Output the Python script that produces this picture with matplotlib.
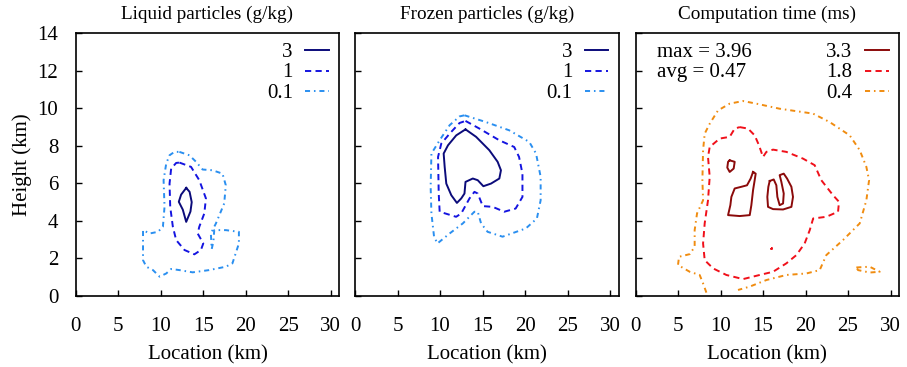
import numpy as np
import matplotlib
matplotlib.use("Agg")
from matplotlib import pyplot as plt

# contour outlines, (km, km)
liq_3 = [(13.0, 5.76), (13.4, 5.55), (13.65, 5.0), (13.5, 4.5), (13.0, 3.95), (12.6, 4.6),
         (12.13, 5.02), (12.4, 5.4), (13.0, 5.76)]
liq_1 = [(12.2, 7.11), (13.57, 6.88), (14.54, 6.17), (15.32, 5.2), (15.13, 4.4), (14.54, 3.69),
         (14.35, 3.33), (15.01, 2.8), (14.73, 2.45), (13.96, 2.22), (12.8, 2.45), (11.82, 2.98),
         (11.43, 3.69), (11.12, 4.75), (11.04, 5.99), (11.23, 6.79), (11.82, 7.09), (12.2, 7.11)]
liq_01 = [(12.2, 7.68), (13.37, 7.5), (14.16, 7.15), (14.93, 6.74), (16.1, 6.7), (17.27, 6.52),
          (17.66, 5.9), (17.47, 4.93), (16.5, 3.87), (15.9, 3.33), (16.0, 2.5), (16.2, 2.9),
          (16.3, 3.51), (17.66, 3.51), (19.2, 3.42), (19.2, 2.8), (18.44, 1.74), (17.66, 1.56),
          (15.7, 1.38), (13.76, 1.26), (12.2, 1.38), (11.23, 1.44), (10.65, 1.2), (9.87, 1.03),
          (9.09, 1.38), (8.31, 1.56), (7.92, 1.91), (7.92, 3.51), (8.7, 3.33), (9.68, 3.42),
          (10.26, 3.69), (10.45, 4.75), (10.34, 6.17), (10.65, 7.06), (11.04, 7.5), (11.62, 7.68),
          (12.2, 7.68)]

frz_3 = [(13.0, 8.88), (14.25, 8.48), (15.8, 7.77), (16.78, 7.15), (17.17, 6.7), (16.98, 6.26),
         (16.0, 5.99), (15.1, 5.85), (14.44, 6.17), (13.86, 6.26), (13.0, 6.08), (12.88, 5.46),
         (12.5, 5.2), (11.99, 4.96), (11.33, 5.37), (10.74, 5.99), (10.55, 6.88), (10.43, 7.59),
         (10.94, 8.03), (11.91, 8.56), (13.0, 8.88)]
frz_1 = [(13.0, 9.33), (14.64, 8.92), (16.97, 8.3), (18.73, 7.94), (19.3, 7.41), (19.7, 6.52),
         (19.7, 5.28), (18.9, 4.66), (17.56, 4.49), (16.2, 4.75), (15.03, 4.79), (14.44, 5.46),
         (14.05, 5.55), (13.47, 5.2), (12.5, 4.4), (11.9, 4.22), (9.96, 4.49), (9.85, 5.46),
         (9.77, 7.41), (10.15, 8.12), (11.13, 8.65), (12.3, 9.22), (13.0, 9.33)]
frz_01 = [(12.88, 9.63), (15.4, 9.27), (18.14, 8.83), (20.5, 8.21), (21.3, 7.59), (21.84, 6.35),
          (21.84, 5.1), (21.4, 4.13), (20.1, 3.6), (17.36, 3.16), (15.6, 3.42), (14.83, 3.87),
          (14.44, 4.49), (14.05, 4.49), (12.69, 3.87), (11.13, 3.33), (9.7, 2.8), (9.3, 3.16),
          (8.99, 4.4), (8.9, 5.82), (8.99, 7.59), (9.96, 8.3), (11.13, 9.1), (12.3, 9.57),
          (12.88, 9.63)]

time_33 = [
    [(11.08, 7.23), (11.67, 7.15), (11.55, 6.79), (11.08, 6.61), (10.8, 6.84), (10.89, 7.15),
     (11.08, 7.23)],
    [(13.83, 6.61), (14.14, 6.52), (14.02, 6.17), (13.83, 5.64), (13.63, 4.84), (13.44, 4.31),
     (12.26, 4.26), (10.89, 4.31), (11.16, 4.84), (11.28, 5.28), (11.67, 5.73), (12.46, 5.82),
     (13.12, 5.9), (13.55, 6.26), (13.83, 6.61)],
    [(15.79, 6.13), (16.26, 6.21), (16.57, 5.9), (16.69, 5.28), (16.96, 4.84), (17.36, 4.93),
     (17.44, 5.46), (17.16, 6.08), (16.96, 6.44), (17.44, 6.52), (17.83, 6.26), (18.34, 5.82),
     (18.53, 5.28), (18.34, 4.75), (17.36, 4.61), (16.18, 4.63), (15.59, 4.75), (15.51, 5.28),
     (15.63, 5.82), (15.79, 6.13)],
]
time_18 = [
    [(12.26, 9.0), (13.24, 8.92), (14.02, 8.56), (14.53, 8.03), (15.0, 7.41), (15.4, 7.68),
     (16.18, 7.8), (17.75, 7.68), (19.71, 7.32), (21.08, 6.97), (21.86, 6.17), (23.24, 5.37),
     (23.94, 5.02), (23.83, 4.49), (22.45, 4.22), (20.9, 4.13), (20.5, 3.51), (19.9, 2.8),
     (18.93, 2.18), (17.75, 1.74), (16.18, 1.29), (14.61, 1.12), (12.65, 0.9), (10.69, 1.12),
     (9.13, 1.47), (8.14, 1.91), (7.95, 2.8), (8.14, 3.87), (8.53, 5.1), (8.73, 6.35),
     (8.53, 7.41), (8.73, 7.94), (9.91, 8.39), (11.08, 8.48), (11.67, 8.92), (12.26, 9.0)],
    [(15.95, 2.56), (16.05, 2.56), (16.05, 2.5), (15.95, 2.5), (15.95, 2.56)],
]
time_04 = [
    [(8.34, 0.18), (7.95, 0.67), (7.55, 1.12), (6.38, 1.29), (5.0, 1.65), (5.12, 2.09),
     (6.38, 2.23), (6.96, 2.62), (6.96, 3.51), (7.24, 4.4), (7.95, 5.1), (7.87, 6.17),
     (7.95, 7.77), (8.14, 8.65), (8.73, 9.18), (9.71, 9.89), (11.08, 10.25), (12.65, 10.39),
     (14.22, 10.25), (16.96, 9.98), (20.88, 9.72), (22.84, 9.27), (25.2, 8.56), (26.38, 7.77),
     (27.16, 6.88), (27.48, 6.17), (27.16, 5.1), (26.38, 3.87), (24.41, 2.98), (22.45, 2.18),
     (21.67, 1.38), (20.1, 1.2), (17.75, 1.12), (15.4, 0.85), (13.44, 0.5), (12.06, 0.32)],
    [(25.98, 1.52), (27.55, 1.56), (28.73, 1.29), (27.55, 1.25), (26.18, 1.38), (25.98, 1.52)],
]

titles = ["Liquid particles (g/kg)", "Frozen particles (g/kg)", "Computation time (ms)"]
levels = [["3", "1", "0.1"], ["3", "1", "0.1"], ["3.3", "1.8", "0.4"]]
stats = ["max = 3.96", "avg = 0.47"]

blues = ["#0b0b7a", "#1414e0", "#2a8ff0"]
reds = ["#8b0a0a", "#f0101a", "#f08c10"]
styles = [dict(ls="-"), dict(ls=(0, (3.2, 2.2))), dict(ls=(0, (2.6, 2.0, 0.8, 2.0)))]

plt.rcParams["font.family"] = ["Liberation Serif", "DejaVu Serif"]
plt.rcParams["font.size"] = 15

fig = plt.figure(figsize=(9.07, 3.67), dpi=100)
lefts = [75.7 / 907, 355.0 / 907, 635.5 / 907]
axes = [fig.add_axes([l, 0.1935, 263.5 / 907, 0.7158]) for l in lefts]

data = [[[liq_3], [liq_1], [liq_01]],
        [[frz_3], [frz_1], [frz_01]],
        [time_33, time_18, time_04]]

for i, ax in enumerate(axes):
    cols = reds if i == 2 else blues
    for k in range(3):
        for seg in data[i][k]:
            seg = np.array(seg)
            ax.plot(seg[:, 0], seg[:, 1], color=cols[k], lw=1.4, **styles[k])
        # key entry, gnuplot style
        yk = 0.9345 - 0.078 * k
        ax.plot([0.872, 0.961], [yk, yk], transform=ax.transAxes, color=cols[k],
                lw=1.4, **styles[k])
        ax.text(0.824, yk - 0.006, levels[i][k], transform=ax.transAxes, ha="right",
                va="center")
    ax.set_xlim(0, 31)
    ax.set_ylim(0, 14)
    ax.set_xticks(range(0, 31, 5))
    ax.set_yticks(range(0, 15, 2))
    ax.tick_params(direction="in", length=4.5, width=1, top=False, right=False)
    ax.tick_params(axis="x", pad=15)
    ax.tick_params(axis="y", pad=12.5)
    for s in ax.spines.values():
        s.set_linewidth(1.2)
    ax.set_title(titles[i], pad=10, fontsize=13.8)
    ax.set_xlabel("Location (km)", labelpad=7)
    if i > 0:
        ax.set_yticklabels([])

axes[0].set_ylabel("Height (km)", labelpad=4)
for k, s in enumerate(stats):
    axes[2].text(0.08, 0.9345 - 0.078 * k - 0.006, s, transform=axes[2].transAxes,
                 ha="left", va="center")

fig.savefig("out.png", dpi=100)
